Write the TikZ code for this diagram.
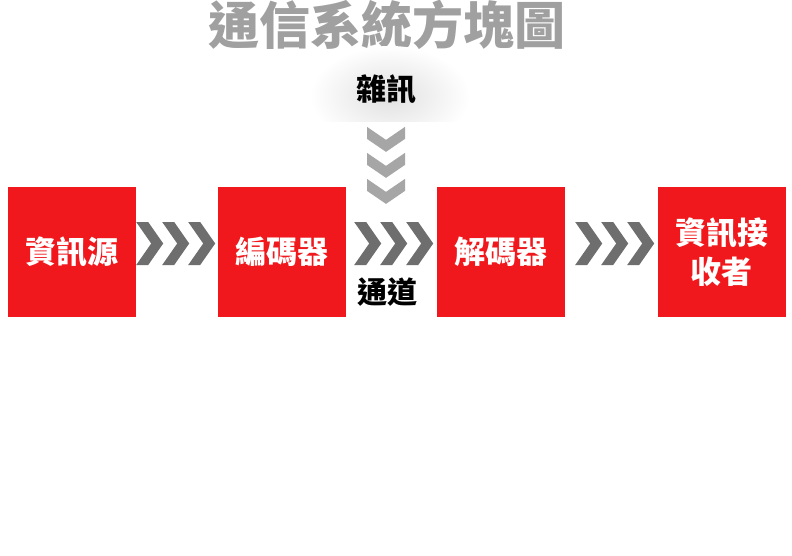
\documentclass[tikz,border=0pt]{standalone}
\usepackage{fontspec}
\setmainfont{Noto Sans CJK TC}
\usetikzlibrary{calc}
\definecolor{boxred}{RGB}{240,24,28}
\definecolor{chevdark}{RGB}{110,110,110}
\definecolor{chevlight}{RGB}{166,166,166}
\definecolor{titlegray}{RGB}{160,160,160}
\tikzset{
  stagebox/.style={fill=boxred, text=white, minimum width=128pt, minimum height=130pt, inner sep=0pt, align=center,
    font=\fontsize{31}{39}\selectfont\bfseries},
  lbl/.style={inner sep=0pt, text=black, font=\fontsize{30}{30}\selectfont\bfseries},
  hchev/.pic={\fill[chevdark] (0,-21.5) -- (12,-21.5) -- (27,0) -- (12,21.5) -- (0,21.5) -- (15,0) -- cycle;},
  vchev/.pic={\fill[chevlight] (-19,0) -- (0,13) -- (19,0) -- (19,12) -- (0,25) -- (-19,12) -- cycle;}
}
\begin{document}
\begin{tikzpicture}[x=1pt,y=-1pt]
\useasboundingbox (0,0) rectangle (792,555);
\fill[white] (0,0) rectangle (792,555);
% title
\node[inner sep=0pt, text=titlegray, font=\fontsize{51}{51}\selectfont\bfseries] (title) at (387,25) {通信系統方塊圖};
% noise glow
\begin{scope}
  \clip (310,40) rectangle (480,121);
  \shade[inner color=gray!24, outer color=white] (390,96) ellipse [x radius=80, y radius=50];
\end{scope}
\node[lbl] (noise) at (386,89) {雜訊};
% boxes
\node[stagebox] (b1) at (72,252) {資訊源};
\node[stagebox] (b2) at (282,252) {編碼器};
\node[stagebox] (b3) at (501,252) {解碼器};
\node[stagebox] (b4) at (721.5,252) {資訊接\\收者};
\node[lbl] (chan) at (387,292) {通道};
% chevrons
\foreach \k in {0,1,2} {
  \pic at ($(b1.east)+(26*\k,-8.5)$) {hchev};
  \pic at ($(b2.east)+(8+26*\k,-8.5)$) {hchev};
  \pic at ($(b3.east)+(10+26*\k,-8.5)$) {hchev};
  \pic at ($(noise.south)+(0,23+26*\k)$) {vchev};
}
\end{tikzpicture}
\end{document}
